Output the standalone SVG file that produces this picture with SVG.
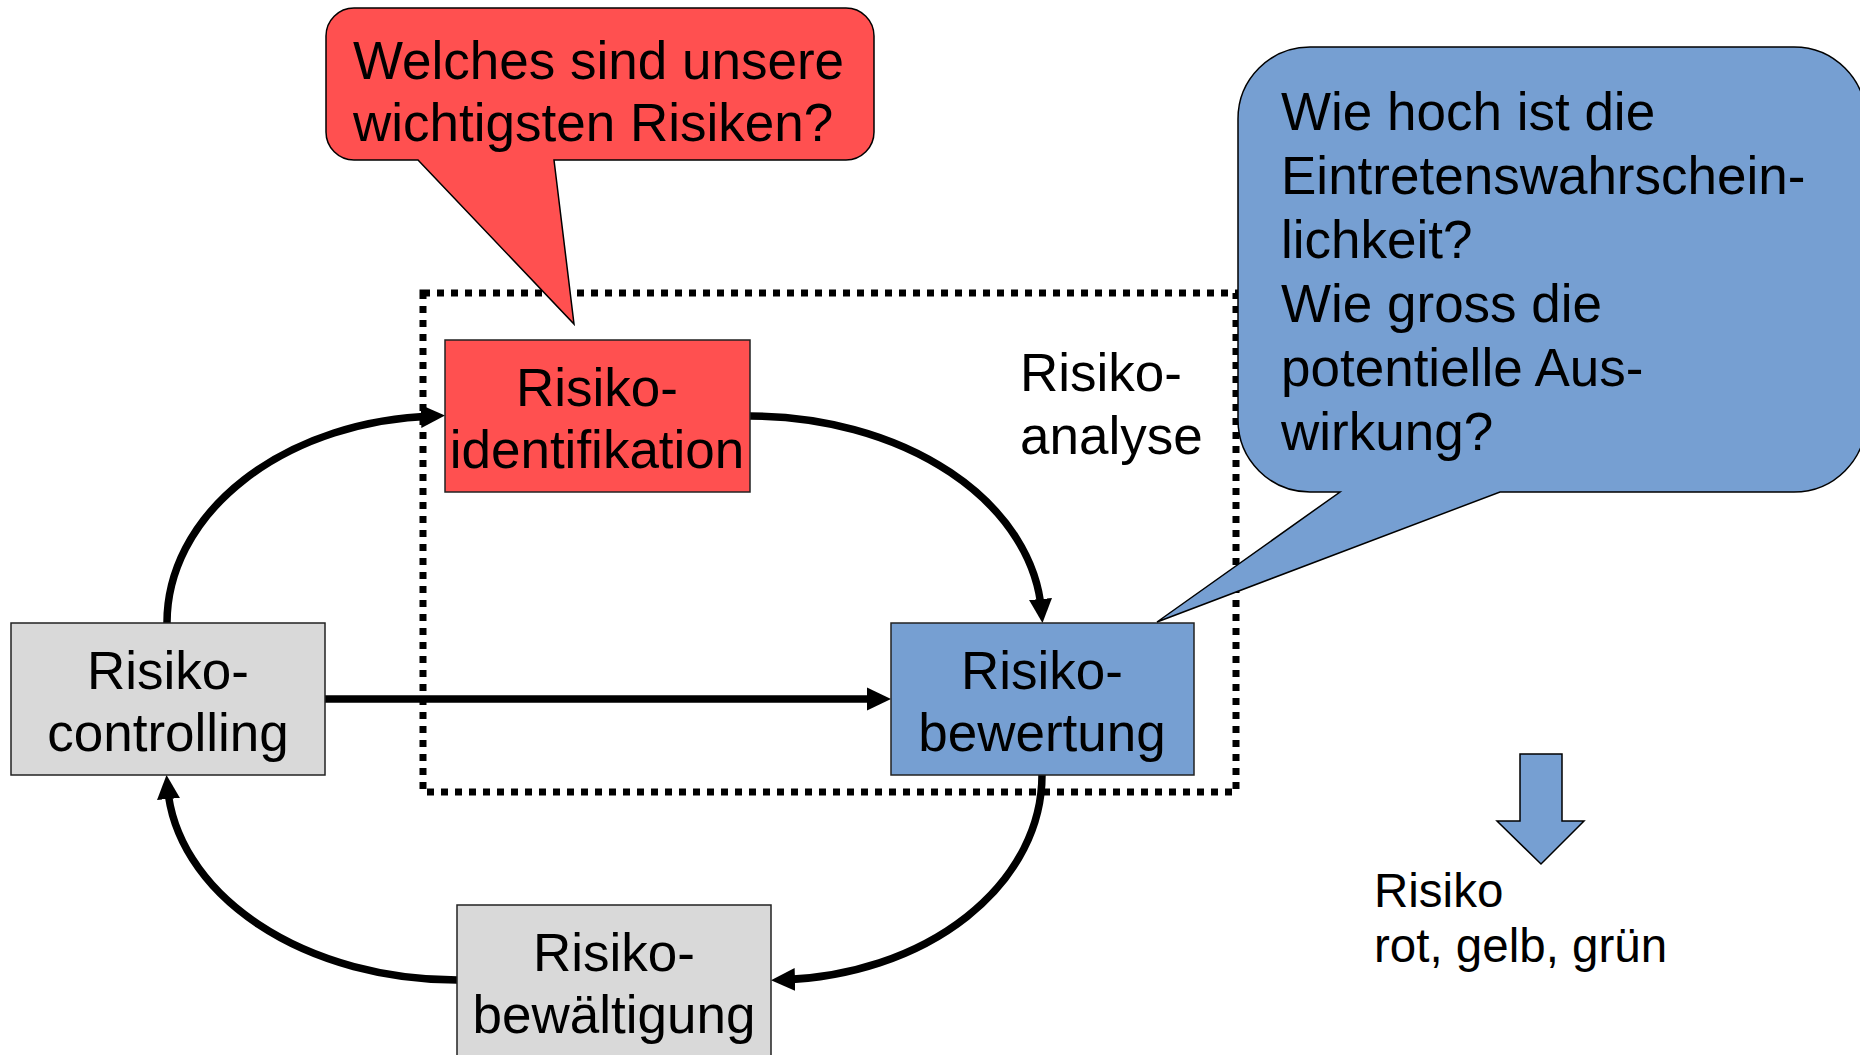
<svg xmlns="http://www.w3.org/2000/svg" width="1860" height="1055" viewBox="0 0 1860 1055">
<style>
text{font-family:"Liberation Sans",Arial,sans-serif;fill:#000}
.lbl{font-size:53px;text-anchor:middle}
.call{font-size:53px}
.node{stroke:#222;stroke-width:1.5}
.red{fill:#FF5050}
.blue{fill:#769FD2}
.gray{fill:#D9D9D9}
.conn{fill:none;stroke:#000;stroke-width:7.5}
.callout{stroke:#000;stroke-width:1.5}
</style>
<defs>
<marker id="ah" markerUnits="userSpaceOnUse" markerWidth="24" markerHeight="24" viewBox="0 0 24 24" refX="12" refY="12" orient="auto">
<path d="M0,0.5 L24,12 L0,23.5 Z" fill="#000"/>
</marker>
</defs>
<rect width="1860" height="1055" fill="#fff"/>
<g id="analyse-box">
<rect x="423" y="293" width="813" height="499" fill="none" stroke="#000" stroke-width="7" stroke-dasharray="7 7"/>
<text class="call" x="1020" y="391">Risiko-</text>
<text class="call" x="1020" y="454">analyse</text>
</g>
<g id="connectors">
<path class="conn" d="M167 623 A278 207 0 0 1 433 416" marker-end="url(#ah)"/>
<path class="conn" d="M750 416 A292 207 0 0 1 1041.5 611" marker-end="url(#ah)"/>
<path class="conn" d="M325 699 L879 699" marker-end="url(#ah)"/>
<path class="conn" d="M1042 775 A271 205 0 0 1 783 979.8" marker-end="url(#ah)"/>
<path class="conn" d="M457 980 A290 205 0 0 1 167.5 787" marker-end="url(#ah)"/>
</g>
<g id="identifikation">
<rect class="node red" x="445" y="340" width="305" height="152"/>
<text class="lbl" x="597" y="406">Risiko-</text>
<text class="lbl" x="597" y="468">identifikation</text>
</g>
<g id="bewertung">
<rect class="node blue" x="891" y="623" width="303" height="152"/>
<text class="lbl" x="1042" y="689">Risiko-</text>
<text class="lbl" x="1042" y="751">bewertung</text>
</g>
<g id="controlling">
<rect class="node gray" x="11" y="623" width="314" height="152"/>
<text class="lbl" x="168" y="689">Risiko-</text>
<text class="lbl" x="168" y="751">controlling</text>
</g>
<g id="bewaeltigung">
<rect class="node gray" x="457" y="905" width="314" height="160"/>
<text class="lbl" x="614" y="971">Risiko-</text>
<text class="lbl" x="614" y="1033">bewältigung</text>
</g>
<g id="callout-red">
<path class="callout red" d="M354 8 H846 A28 28 0 0 1 874 36 V132 A28 28 0 0 1 846 160 H554 L574 324 L418 160 H354 A28 28 0 0 1 326 132 V36 A28 28 0 0 1 354 8 Z"/>
<text class="call" x="353" y="79">Welches sind unsere</text>
<text class="call" x="353" y="141">wichtigsten Risiken?</text>
</g>
<g id="callout-blue">
<path class="callout blue" d="M1310 47 H1794 A72 72 0 0 1 1866 119 V420 A72 72 0 0 1 1794 492 H1500 L1157 622 L1340 492 H1310 A72 72 0 0 1 1238 420 V119 A72 72 0 0 1 1310 47 Z"/>
<text class="call" x="1281" y="130">Wie hoch ist die</text>
<text class="call" x="1281" y="194">Eintretenswahrschein-</text>
<text class="call" x="1281" y="258">lichkeit?</text>
<text class="call" x="1281" y="322">Wie gross die</text>
<text class="call" x="1281" y="386">potentielle Aus-</text>
<text class="call" x="1281" y="450">wirkung?</text>
</g>
<g id="ampel">
<polygon class="callout blue" points="1520,754 1562,754 1562,821 1584,821 1541,864 1497,821 1520,821"/>
<text x="1374" y="907" font-size="47.5">Risiko</text>
<text x="1374" y="962" font-size="47.5">rot, gelb, grün</text>
</g>
</svg>
